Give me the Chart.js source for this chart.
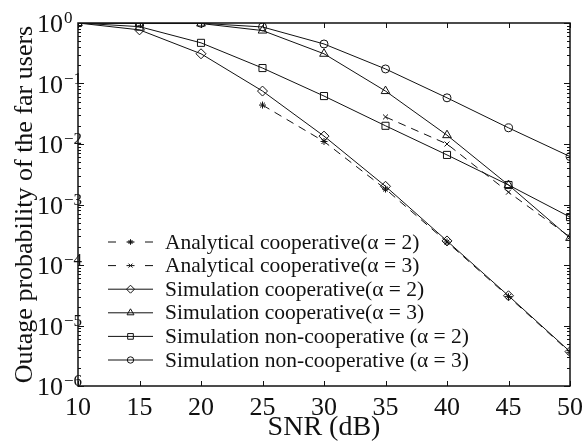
<!DOCTYPE html>
<html>
<head>
<meta charset="utf-8">
<script src="https://cdn.jsdelivr.net/npm/chart.js@4/dist/chart.umd.min.js"></script>
<style>
  html, body { margin: 0; padding: 0; background: #fff; }
  #wrap { width: 585px; height: 446px; }
</style>
</head>
<body>
<div id="wrap"><canvas id="outageChart"></canvas></div>
<script>
// SNR points (dB)
const snr = [10, 15, 20, 25, 30, 35, 40, 45, 50];
const yExponents = [0, -1, -2, -3, -4, -5, -6];

// Outage probability of the far users (null = not plotted)
const analyticalCoop2 = [null, null, null, 0.044, 0.011, 0.0018, 0.00024, 3.0e-5, 3.6e-6];
const analyticalCoop3 = [null, null, null, null, null, 0.028, 0.010, 0.0016, 0.00029];
const simCoop2 = [1, 0.77, 0.31, 0.075, 0.0135, 0.0020, 0.00025, 3.1e-5, 3.7e-6];
const simCoop3 = [1, 0.98, 0.98, 0.75, 0.31, 0.075, 0.014, 0.0021, 0.00028];
const simNonCoop2 = [1, 0.87, 0.47, 0.18, 0.062, 0.020, 0.0066, 0.0021, 0.00062];
const simNonCoop3 = [1, 0.99, 0.99, 0.86, 0.45, 0.174, 0.058, 0.0185, 0.0062];

const seriesLabels = [
    'Analytical cooperative(\u03b1 = 2)',
    'Analytical cooperative(\u03b1 = 3)',
    'Simulation cooperative(\u03b1 = 2)',
    'Simulation cooperative(\u03b1 = 3)',
    'Simulation non-cooperative (\u03b1 = 2)',
    'Simulation non-cooperative (\u03b1 = 3)'
];

const INK = '#111';
const SERIF = "'Liberation Serif', 'Times New Roman', serif";

function toPoints(values) {
    return snr.map((x, i) => ({ x: x, y: values[i] })).filter(p => p.y !== null);
}

function makeSet(label, values, pointStyle, radius, dashed) {
    return {
        label: label,
        data: toPoints(values),
        borderColor: INK,
        borderWidth: 1,
        borderDash: dashed ? [8, 6] : [],
        pointStyle: pointStyle,
        pointRadius: radius,
        pointBorderColor: INK,
        pointBackgroundColor: 'rgba(0,0,0,0)',
        pointBorderWidth: 1,
        fill: false,
        tension: 0
    };
}

const datasets = [
    makeSet(seriesLabels[0], analyticalCoop2, 'star', 3.5, true),
    makeSet(seriesLabels[1], analyticalCoop3, 'crossRot', 3.5, true),
    makeSet(seriesLabels[2], simCoop2, 'rectRot', 5, false),
    makeSet(seriesLabels[3], simCoop3, 'triangle', 5, false),
    makeSet(seriesLabels[4], simNonCoop2, 'rect', 5, false),
    makeSet(seriesLabels[5], simNonCoop3, 'circle', 4, false)
];

// frame, inward ticks, 10^n labels and the legend box (MATLAB look)
const matlabAxes = {
    id: 'matlabAxes',
    afterDraw(chart) {
        const ctx = chart.ctx;
        const area = chart.chartArea;
        const xs = chart.scales.x;
        const ys = chart.scales.y;
        ctx.save();
        ctx.strokeStyle = INK;
        ctx.lineWidth = 1;

        // x ticks, bottom and top
        ctx.beginPath();
        snr.forEach(v => {
            const px = Math.round(xs.getPixelForValue(v)) + 0.5;
            ctx.moveTo(px, area.bottom); ctx.lineTo(px, area.bottom - 5);
            ctx.moveTo(px, area.top); ctx.lineTo(px, area.top + 5);
        });
        // y ticks, left and right, with minor ticks
        yExponents.forEach(e => {
            const py = Math.round(ys.getPixelForValue(Math.pow(10, e))) + 0.5;
            ctx.moveTo(area.left, py); ctx.lineTo(area.left + 6, py);
            ctx.moveTo(area.right, py); ctx.lineTo(area.right - 6, py);
            if (e < 0) {
                for (let m = 2; m <= 9; m++) {
                    const pm = Math.round(ys.getPixelForValue(m * Math.pow(10, e))) + 0.5;
                    ctx.moveTo(area.left, pm); ctx.lineTo(area.left + 3, pm);
                    ctx.moveTo(area.right, pm); ctx.lineTo(area.right - 3, pm);
                }
            }
        });
        ctx.stroke();

        // box
        ctx.lineWidth = 1.5;
        ctx.strokeRect(area.left, area.top, area.right - area.left, area.bottom - area.top);

        // y labels 10^n
        ctx.fillStyle = INK;
        ctx.textBaseline = 'alphabetic';
        yExponents.forEach(e => {
            const py = ys.getPixelForValue(Math.pow(10, e));
            ctx.font = '26px ' + SERIF;
            ctx.textAlign = 'right';
            ctx.fillText('10', area.left - 15, py + 9);
            ctx.font = '17px ' + SERIF;
            ctx.textAlign = 'left';
            ctx.fillText(e === 0 ? '0' : '\u2212' + (-e), area.left - 14, py);
        });

        // legend
        const lx0 = area.left + 30, lx1 = area.left + 75, tx = area.left + 87;
        chart.data.datasets.forEach((ds, i) => {
            const ly = 242 + i * 23.6;
            ctx.strokeStyle = INK;
            ctx.lineWidth = 1;
            ctx.setLineDash(ds.borderDash.length ? [8, 10.5] : []);
            ctx.beginPath();
            ctx.moveTo(lx0, ly); ctx.lineTo(lx1, ly);
            ctx.stroke();
            ctx.setLineDash([]);
            ctx.fillStyle = 'rgba(0,0,0,0)';
            if (Chart.helpers && Chart.helpers.drawPoint) {
                Chart.helpers.drawPoint(ctx, {
                    pointStyle: ds.pointStyle, radius: ds.pointRadius * 0.8, rotation: 0, borderWidth: 1
                }, (lx0 + lx1) / 2, ly);
            }
            ctx.fillStyle = INK;
            ctx.font = '21.5px ' + SERIF;
            ctx.textAlign = 'left';
            ctx.textBaseline = 'middle';
            ctx.fillText(ds.label, tx, ly + 1);
        });
        ctx.restore();
    }
};

new Chart(document.getElementById('outageChart'), {
    type: 'line',
    data: { datasets: datasets },
    plugins: [matlabAxes],
    options: {
        responsive: true,
        maintainAspectRatio: false,
        animation: false,
        layout: { padding: { top: 23, right: 15, left: 0, bottom: 0 } },
        plugins: {
            legend: { display: false },
            tooltip: { enabled: false }
        },
        scales: {
            x: {
                type: 'linear',
                min: 10,
                max: 50,
                afterFit: s => { s.height = 60; },
                grid: { display: false },
                border: { display: false },
                ticks: {
                    stepSize: 5,
                    padding: -1,
                    color: INK,
                    font: { family: SERIF, size: 26 }
                },
                title: {
                    display: true,
                    text: 'SNR (dB)',
                    color: INK,
                    padding: { top: 0, bottom: 2 },
                    font: { family: SERIF, size: 28 }
                }
            },
            y: {
                type: 'logarithmic',
                min: 1e-6,
                max: 1,
                afterFit: s => { s.width = 78; },
                grid: { display: false },
                border: { display: false },
                ticks: { display: false },
                title: {
                    display: true,
                    text: 'Outage probability of the far users',
                    color: INK,
                    padding: { top: 10, bottom: 0 },
                    font: { family: SERIF, size: 26 }
                }
            }
        }
    }
});
</script>
</body>
</html>
